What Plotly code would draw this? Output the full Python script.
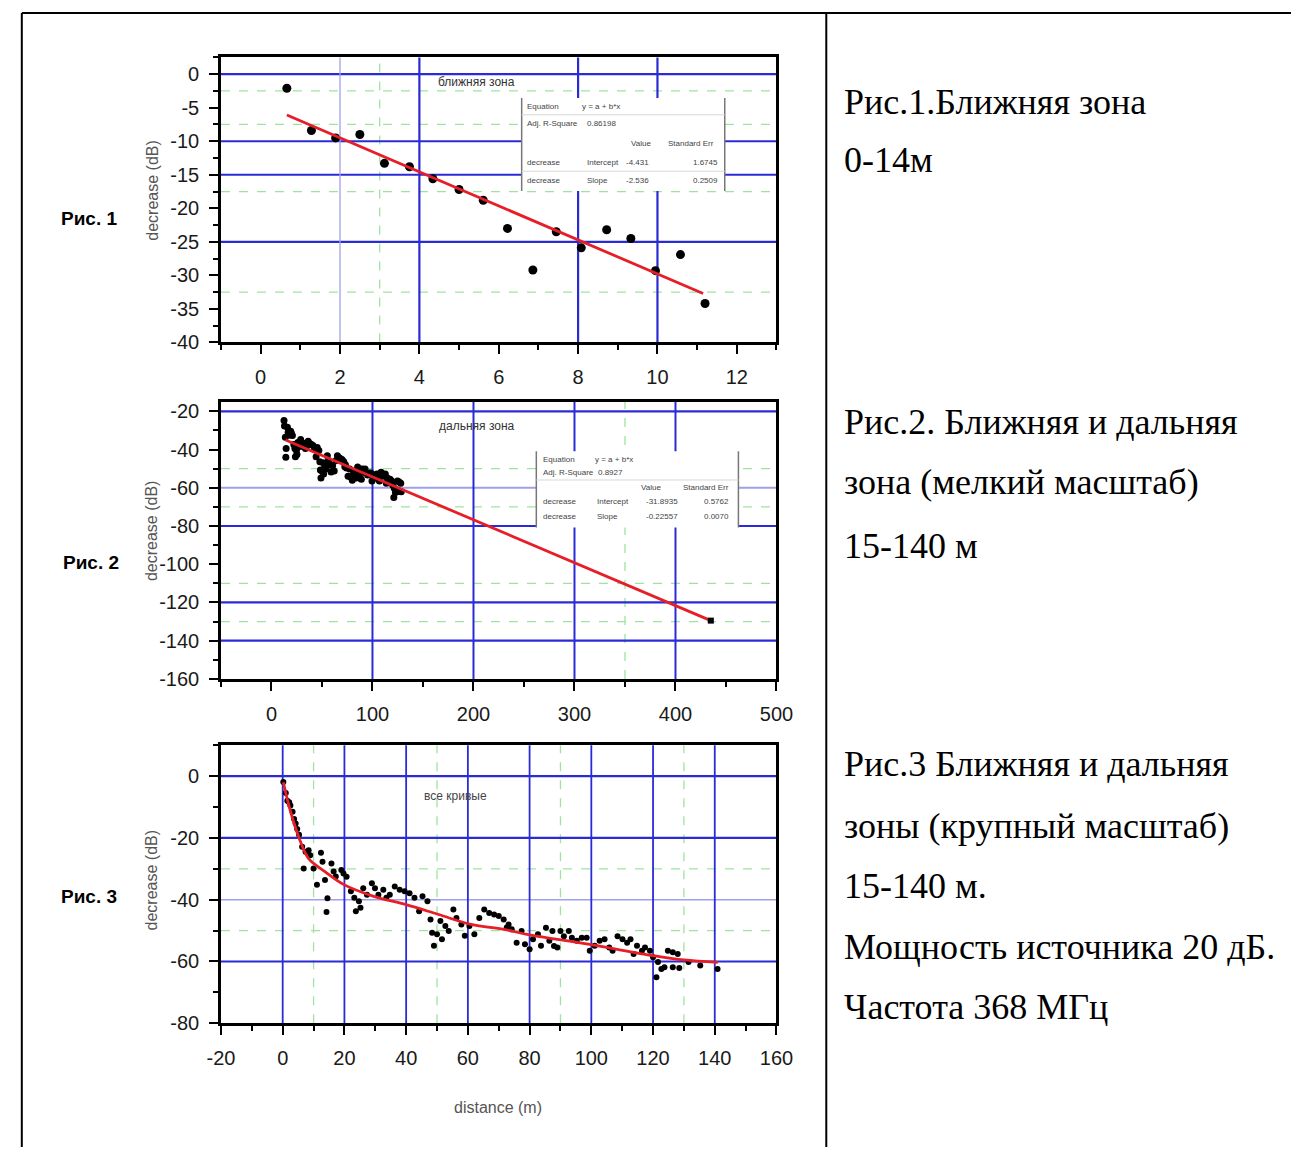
import plotly.graph_objects as go

W, H = 1308, 1158

# ---------------- data ----------------
# Рис. 1 — ближняя зона
p1_x = [0.66, 1.28, 1.89, 2.5, 3.12, 3.75, 4.34, 5.0, 5.61, 6.22, 6.86, 7.45, 8.08, 8.72, 9.33, 9.95, 10.58, 11.2]
p1_y = [-2.1, -8.4, -9.5, -9.0, -13.3, -13.8, -15.6, -17.2, -18.8, -23.0, -29.2, -23.5, -25.9, -23.2, -24.5, -29.3, -26.9, -34.2]
p1_fit_x = [0.66, 11.15]
p1_fit_y = [-6.1, -32.7]

# Рис. 3 — все кривые (measured points)
p3_x = [0.2, 1.0, 1.5, 2.1, 2.5, 3.2, 3.7, 4.2, 4.7, 5.3, 6.3, 6.8, 7.4, 8.4, 8.9, 10.0, 11.1, 12.4, 12.9,
        13.7, 14.2, 14.5, 15.8, 16.5, 17.2, 19.0, 19.7, 20.7, 22.1, 23.2, 23.7, 24.7, 25.2, 26.1, 27.3,
        28.9, 29.9, 31.0, 32.6, 33.6, 34.7, 36.3, 37.9, 39.5, 41.1, 42.7, 44.2, 45.3, 46.9, 47.9, 48.4,
        49.0, 50.0, 51.1, 51.6, 52.7, 53.8, 55.3, 56.3, 57.9, 59.0, 60.5, 62.1, 63.7, 65.3, 66.9, 68.5,
        70.0, 71.6, 72.6, 73.2, 74.2, 75.8, 77.4, 78.5, 80.0, 81.1, 82.7, 83.7, 85.3, 86.4, 87.4, 87.9,
        89.0, 90.0, 91.1, 92.7, 93.7, 95.3, 96.9, 98.5, 99.5, 101.1, 102.7, 104.3, 105.8, 106.9, 108.5,
        110.1, 111.6, 112.7, 113.7, 114.8, 116.4, 117.4, 119.0, 120.0, 121.1, 121.6, 122.7, 123.7, 124.8,
        126.4, 126.4, 128.0, 128.5, 131.5, 135.3, 140.9]
p3_y = [-1.9, -5.5, -8.0, -8.5, -9.5, -11.5, -13.9, -15.3, -17.1, -19.0, -22.9, -29.9, -24.5, -24.0, -25.6, -29.9, -35.2, -24.8, -27.7,
        -33.6, -44.0, -39.5, -28.3, -30.9, -32.5, -30.4, -31.5, -32.6, -37.3, -39.4, -43.7, -40.5, -42.6, -36.3, -38.4,
        -34.7, -36.3, -38.4, -36.8, -39.4, -38.4, -35.7, -36.8, -37.3, -37.9, -39.4, -43.7, -38.9, -40.5, -46.4, -50.7,
        -54.9, -51.2, -46.9, -52.8, -48.5, -50.1, -43.2, -45.9, -48.0, -51.7, -48.5, -51.2, -45.9, -43.2, -44.3, -44.8,
        -45.3, -46.4, -49.0, -48.0, -49.6, -53.9, -50.1, -54.4, -56.0, -52.8, -51.2, -54.9, -49.1, -53.3, -50.1, -55.0,
        -55.5, -50.1, -51.8, -50.1, -52.3, -53.3, -52.3, -52.3, -56.5, -54.9, -53.3, -52.8, -55.5, -56.5, -51.8,
        -52.8, -53.9, -52.8, -57.6, -54.9, -56.5, -55.5, -56.5, -58.6, -65.1, -60.2, -62.4, -61.9, -56.5,
        -57.0, -61.9, -57.6, -62.1, -60.2, -61.3, -62.4]
p3_fit_x = [0.2, 2.6, 5.8, 8.4, 13.7, 20.0, 29.5, 40.0, 50.5, 61.1, 71.6, 80.0, 99.0, 120.0, 130.0, 141.0]
p3_fit_y = [-2.0, -11.7, -21.3, -26.7, -30.9, -35.2, -38.9, -41.6, -44.8, -48.0, -49.6, -51.4, -54.4, -58.1, -59.5, -60.3]

# Рис. 2 — дальняя зона (same measurements, 12–129 m) with linear extrapolation
p2_x = [x for x in p3_x if 12 <= x <= 129]
p2_y = [y for x, y in zip(p3_x, p3_y) if 12 <= x <= 129]
p2_fit_x = [14, 435]
p2_fit_y = [-35.0, -129.5]

# tick values / labels (hyphen minus as in the original)
p1_xticks = [0, 2, 4, 6, 8, 10, 12]
p1_yticks = [0, -5, -10, -15, -20, -25, -30, -35, -40]
p2_xticks = [0, 100, 200, 300, 400, 500]
p2_yticks = [-20, -40, -60, -80, -100, -120, -140, -160]
p3_xticks = [-20, 0, 20, 40, 60, 80, 100, 120, 140, 160]
p3_yticks = [0, -20, -40, -60, -80]

# grid values
p1_grid_major_y = [0, -10, -15, -25]
p1_grid_minor_y = [-2.5, -7.5, -17.5, -32.5]
p1_grid_major_x = [4, 8, 10]
p1_grid_light_x = [2]
p1_grid_minor_x = [3]
p2_grid_major_y = [-20, -80, -120, -140]
p2_grid_light_y = [-60]
p2_grid_minor_y = [-50, -70, -110, -130]
p2_grid_major_x = [100, 200, 300, 400]
p2_grid_minor_x = [350]
p3_grid_major_y = [0, -20, -60]
p3_grid_light_y = [-40]
p3_grid_minor_y = [-30, -50]
p3_grid_major_x = [0, 20, 40, 60, 80, 100, 120, 140]
p3_grid_minor_x = [10, 50, 90, 130]

right_lines = ["Рис.1.Ближняя зона", "0-14м",
               "Рис.2. Ближняя и дальняя", "зона (мелкий масштаб)", "15-140 м",
               "Рис.3 Ближняя и дальняя", "зоны (крупный масштаб)", "15-140 м.",
               "Мощность источника 20 дБ.", "Частота 368 МГц"]
right_line_py = [102, 161, 425, 486, 551, 771, 834, 894, 956, 1017]

# ---------------- helpers ----------------
def px(x):
    return x / W

def py(y):
    return 1 - y / H

BLUE = "#2b2bd6"
LBLUE = "#a0a0ec"
GREEN = "#9ee49e"
TICKFONT = dict(family="Liberation Sans Narrow, Arial Narrow, Liberation Sans, Arial", size=20, color="#1a1a1a")

fig = go.Figure()

def scatter(xs, ys, ax, size):
    fig.add_trace(go.Scatter(x=xs, y=ys, mode="markers", xaxis=ax[0], yaxis=ax[1],
                             marker=dict(color="black", size=size), showlegend=False, hoverinfo="skip"))

def line(xs, ys, ax, shape="linear"):
    fig.add_trace(go.Scatter(x=xs, y=ys, mode="lines", xaxis=ax[0], yaxis=ax[1],
                             line=dict(color="#e61e28", width=2.8, shape=shape), showlegend=False, hoverinfo="skip"))

scatter(p1_x, p1_y, ("x", "y"), 9)
line(p1_fit_x, p1_fit_y, ("x", "y"))
scatter(p2_x, p2_y, ("x2", "y2"), 7)
line(p2_fit_x, p2_fit_y, ("x2", "y2"))
fig.add_trace(go.Scatter(x=p2_fit_x[-1:], y=p2_fit_y[-1:], mode="markers", xaxis="x2", yaxis="y2",
                         marker=dict(color="black", size=6, symbol="square"), showlegend=False))
scatter(p3_x, p3_y, ("x3", "y3"), 6)
line(p3_fit_x, p3_fit_y, ("x3", "y3"), shape="spline")

shapes = []

def hgrid(vals, xa, ya, color, width, dash="solid"):
    for v in vals:
        shapes.append(dict(type="line", xref=f"{xa} domain", yref=ya, x0=0, x1=1, y0=v, y1=v,
                           line=dict(color=color, width=width, dash=dash), layer="below"))

def vgrid(vals, xa, ya, color, width, dash="solid"):
    for v in vals:
        shapes.append(dict(type="line", xref=xa, yref=f"{ya} domain", x0=v, x1=v, y0=0, y1=1,
                           line=dict(color=color, width=width, dash=dash), layer="below"))

hgrid(p1_grid_minor_y, "x", "y", GREEN, 1.3, "dash")
vgrid(p1_grid_minor_x, "x", "y", GREEN, 1.3, "dash")
hgrid(p1_grid_major_y, "x", "y", BLUE, 2.2)
vgrid(p1_grid_major_x, "x", "y", BLUE, 2.2)
vgrid(p1_grid_light_x, "x", "y", LBLUE, 1.3)

hgrid(p2_grid_minor_y, "x2", "y2", GREEN, 1.3, "dash")
vgrid(p2_grid_minor_x, "x2", "y2", GREEN, 1.3, "dash")
hgrid(p2_grid_major_y, "x2", "y2", BLUE, 2.2)
hgrid(p2_grid_light_y, "x2", "y2", LBLUE, 2)
vgrid(p2_grid_major_x, "x2", "y2", BLUE, 2.0)

hgrid(p3_grid_minor_y, "x3", "y3", GREEN, 1.3, "dash")
vgrid(p3_grid_minor_x, "x3", "y3", GREEN, 1.3, "dash")
hgrid(p3_grid_major_y, "x3", "y3", BLUE, 2.2)
hgrid(p3_grid_light_y, "x3", "y3", LBLUE, 1.5)
vgrid(p3_grid_major_x, "x3", "y3", BLUE, 1.8)

# inset fit tables (white boxes)
def inset_box(x0, y0, x1, y1, seps):
    shapes.append(dict(type="rect", xref="paper", yref="paper", x0=px(x0), x1=px(x1), y0=py(y1), y1=py(y0),
                       fillcolor="white", line=dict(color="white", width=0), layer="above"))
    for sx in (x0, x1):
        shapes.append(dict(type="line", xref="paper", yref="paper", x0=px(sx), x1=px(sx), y0=py(y1), y1=py(y0),
                           line=dict(color="#777", width=1.5), layer="above"))
    for s in seps:
        shapes.append(dict(type="line", xref="paper", yref="paper", x0=px(x0), x1=px(x1), y0=py(s), y1=py(s),
                           line=dict(color="#d8d8d8", width=1), layer="above"))

inset_box(520, 98, 728, 192, [115, 172])
inset_box(535, 455, 742, 532, [484])

# table borders of the page
border = dict(color="black", width=2)
shapes.append(dict(type="line", xref="paper", yref="paper", x0=px(8), x1=1, y0=py(12), y1=py(12), line=border))
shapes.append(dict(type="line", xref="paper", yref="paper", x0=px(8), x1=px(8), y0=0, y1=py(12), line=border))
shapes.append(dict(type="line", xref="paper", yref="paper", x0=px(832), x1=px(832), y0=0, y1=py(12), line=border))

annotations = []

def txt(x, y, s, size=12, color="black", family="Liberation Sans, Arial", xanchor="left", angle=0, bold=False):
    annotations.append(dict(x=px(x), y=py(y), xref="paper", yref="paper", text=(f"<b>{s}</b>" if bold else s),
                            showarrow=False, xanchor=xanchor, yanchor="middle", textangle=angle,
                            font=dict(size=size, color=color, family=family)))

# figure labels
txt(108, 220, "Рис. 1", 19, bold=True, xanchor="right")
txt(110, 567, "Рис. 2", 19, bold=True, xanchor="right")
txt(108, 905, "Рис. 3", 19, bold=True, xanchor="right")

# y axis titles
txt(141, 191, "decrease (dB)", 16, "#555", xanchor="center", angle=-90)
txt(141, 535, "decrease (dB)", 16, "#555", xanchor="center", angle=-90)
txt(141, 888, "decrease (dB)", 16, "#555", xanchor="center", angle=-90)
txt(496, 1118, "distance (m)", 16, "#555", xanchor="center")

# plot titles
txt(474, 82, "ближняя зона", 12, "#333", xanchor="center")
txt(474, 429, "дальняя зона", 12, "#333", xanchor="center")
txt(452, 803, "все кривые", 12, "#444", xanchor="center")

# inset text
small = 8
ic = "#444"
txt(523, 107, "Equation", small, ic); txt(580, 107, "y = a + b*x", small, ic)
txt(523, 124, "Adj. R-Square", small, ic); txt(585, 124, "0.86198", small, ic)
txt(630, 144, "Value", small, ic); txt(668, 144, "Standard Err", small, ic)
txt(523, 163, "decrease", small, ic); txt(585, 163, "Intercept", small, ic); txt(625, 163, "-4.431", small, ic); txt(693, 163, "1.6745", small, ic)
txt(523, 181, "decrease", small, ic); txt(585, 181, "Slope", small, ic); txt(625, 181, "-2.536", small, ic); txt(693, 181, "0.2509", small, ic)

txt(540, 463, "Equation", small, ic); txt(593, 463, "y = a + b*x", small, ic)
txt(540, 476, "Adj. R-Square", small, ic); txt(596, 476, "0.8927", small, ic)
txt(640, 492, "Value", small, ic); txt(683, 492, "Standard Err", small, ic)
txt(540, 506, "decrease", small, ic); txt(595, 506, "Intercept", small, ic); txt(645, 506, "-31.8935", small, ic); txt(705, 506, "0.5762", small, ic)
txt(540, 521, "decrease", small, ic); txt(595, 521, "Slope", small, ic); txt(645, 521, "-0.22557", small, ic); txt(705, 521, "0.0070", small, ic)

# right column text
for s, yy in zip(right_lines, right_line_py):
    txt(848, yy, s, 36, "black", family="Liberation Serif, Times New Roman, serif")

def ax(domain, anchor, rng, ticks, mdtick):
    return dict(domain=domain, anchor=anchor, range=rng,
                tickmode="array", tickvals=ticks, ticktext=[str(t) for t in ticks],
                showline=True, linecolor="black", linewidth=2.5, mirror=True,
                ticks="outside", ticklen=9, tickwidth=2.2, tickcolor="black",
                showgrid=False, zeroline=False, tickfont=TICKFONT, ticklabelstandoff=6,
                minor=dict(dtick=mdtick, tick0=0, ticks="outside", ticklen=5, tickwidth=2,
                           tickcolor="black", showgrid=False))

xd = [px(212), px(781)]
layout = dict(
    width=W, height=H, margin=dict(l=0, r=0, t=0, b=0),
    paper_bgcolor="white", plot_bgcolor="white",
    xaxis=ax(xd, "y", [-1, 13], p1_xticks, 1),
    yaxis=ax([py(345), py(57)], "x", [-40, 2.5], p1_yticks, 2.5),
    xaxis2=ax(xd, "y2", [-50, 500], p2_xticks, 50),
    yaxis2=ax([py(685), py(405)], "x2", [-160, -15], p2_yticks, 10),
    xaxis3=ax(xd, "y3", [-20, 160], p3_xticks, 10),
    yaxis3=ax([py(1033), py(752)], "x3", [-80, 10], p3_yticks, 10),
    shapes=shapes, annotations=annotations,
)
fig.update_layout(**layout)
fig.write_html("out.html", config={"displayModeBar": False},
               post_script="document.body.style.margin='0';document.body.style.overflow='hidden';")
